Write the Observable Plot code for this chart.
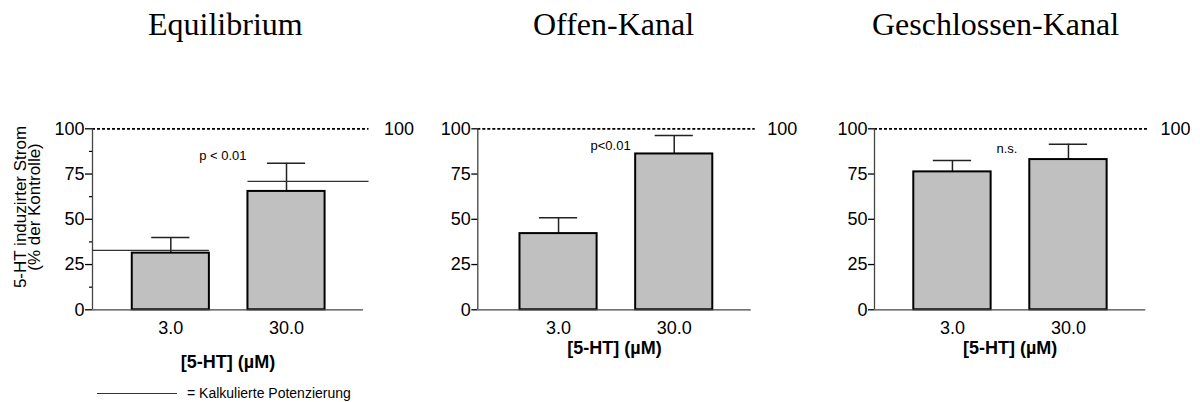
<!DOCTYPE html>
<html>
<head>
<meta charset="utf-8">
<script src="https://cdn.jsdelivr.net/npm/d3@7"></script>
<script src="https://cdn.jsdelivr.net/npm/@observablehq/plot@0.6"></script>
<style>
  html, body { margin: 0; padding: 0; background: white; }
  #root { position: relative; width: 1200px; height: 402px; overflow: hidden; background: white; }
  .title { position: absolute; top: 8px; font-family: "Liberation Serif", "Times New Roman", serif; font-size: 32px; line-height: 32px; white-space: nowrap; color: #000; }
  .panel { position: absolute; top: 0; }
  .ylab { position: absolute; left: 28px; top: 207px; transform: translate(-50%, -50%) rotate(-90deg);
          font-family: "Liberation Sans", Arial, sans-serif; font-size: 17px; line-height: 14px; text-align: center; white-space: nowrap; color: #000; }
  .legend { position: absolute; left: 97px; top: 384px; height: 18px; display: flex; align-items: center;
            font-family: "Liberation Sans", Arial, sans-serif; font-size: 14px; color: #000; white-space: nowrap; }
  .legend .line { width: 80px; border-top: 1.2px solid #333; margin-right: 10px; }
</style>
</head>
<body>
<div id="root"></div>
<script>
// ---- data ----
const categories = ["3.0", "30.0"];
const panelTitles = ["Equilibrium", "Offen-Kanal", "Geschlossen-Kanal"];
const meanEquilibrium = [31.3, 65.4];
const semEquilibrium = [8.7, 15.6];
const meanOffen = [42.1, 86.1];
const semOffen = [8.7, 10.2];
const meanGeschlossen = [76.2, 83.0];
const semGeschlossen = [6.3, 8.5];
const calcPotenzierung = [32.8, 71.0];      // Equilibrium only
const significance = ["p < 0.01", "p<0.01", "n.s."];
const yTicks = [0, 25, 50, 75, 100];
const yMinorTicks = [12.5, 37.5, 62.5, 87.5];
const xAxisTitle = "[5-HT] (µM)";
const yAxisTitle = ["5-HT induzirter Strom", "(% der Kontrolle)"];
const legendText = "= Kalkulierte Potenzierung";
const referenceLevel = 100;

// ---- layout ----
const layout = [
  {left: 0,   width: 425, marginLeft: 92,   marginRight: 56.5, domain: [0.323, 2.713], tickSize: 7, minor: true,
   sig: {x: 1.45, y: 85}, labelDy: 58, refDx: 15, titleLeft: 148},
  {left: 425, width: 395, marginLeft: 52.3, marginRight: 65.3, domain: [0.302, 2.70], tickSize: 6, minor: false,
   sig: {x: 1.45, y: 90.7}, labelDy: 44, refDx: 12, titleLeft: 533},
  {left: 820, width: 380, marginLeft: 54,   marginRight: 52,   domain: [0.328, 2.69], tickSize: 6, minor: false,
   sig: {x: 1.47, y: 89}, labelDy: 44, refDx: 12, titleLeft: 872}
];
const means = [meanEquilibrium, meanOffen, meanGeschlossen];
const sems = [semEquilibrium, semOffen, semGeschlossen];
const axisEnd = 2.666;
const halfBar = 1 / 3;
const halfCap = 0.165;

const root = document.getElementById("root");
const font = "'Liberation Sans', Arial, sans-serif";

panelTitles.forEach((t, p) => {
  const L = layout[p];
  const div = document.createElement("div");
  div.className = "title";
  div.style.left = L.titleLeft + "px";
  div.textContent = t;
  root.appendChild(div);

  const data = categories.map((c, i) => ({cat: c, pos: i + 1, mean: means[p][i], sem: sems[p][i]}));
  const x0 = L.domain[0], xEnd = L.domain[1];

  const marks = [
    // reference dotted line at 100
    Plot.ruleY([referenceLevel], {x1: x0, x2: xEnd, stroke: "black", strokeWidth: 1.8, strokeDasharray: "3,2"}),
    Plot.text([referenceLevel], {y: d => d, text: d => String(d), frameAnchor: "right", dx: L.refDx, textAnchor: "start", fontSize: 18}),
    // error bars
    Plot.ruleX(data, {x: "pos", y1: "mean", y2: d => d.mean + d.sem, stroke: "#222", strokeWidth: 1.5}),
    Plot.ruleY(data, {y: d => d.mean + d.sem, x1: d => d.pos - halfCap, x2: d => d.pos + halfCap, stroke: "#222", strokeWidth: 1.5}),
    // bars
    Plot.rectY(data, {x1: d => d.pos - halfBar, x2: d => d.pos + halfBar, y: "mean", fill: "#c0c0c0", stroke: "black", strokeWidth: 2}),
    // axes lines
    Plot.ruleX([x0], {y1: 0, y2: 100, stroke: "#444", strokeWidth: 1.3}),
    Plot.ruleY([0], {x1: x0, x2: axisEnd, stroke: "#444", strokeWidth: 1.3}),
    Plot.axisY({ticks: yTicks, tickSize: L.tickSize, tickPadding: 1, tickFormat: d => String(d), fontSize: 18, strokeWidth: 1.3, label: null}),
    Plot.axisX({ticks: [1, 2], tickSize: 0, tickPadding: 11, tickFormat: d => categories[d - 1], fontSize: 18, label: null}),
    // x axis title
    Plot.text([xAxisTitle], {x: () => (x0 + axisEnd) / 2, frameAnchor: "bottom", dy: L.labelDy, text: d => d, fontSize: 18, fontWeight: "bold"}),
    // significance
    Plot.text([significance[p]], {x: () => L.sig.x, y: () => L.sig.y, text: d => d, fontSize: 13})
  ];
  if (L.minor) {
    marks.push(Plot.axisY({ticks: yMinorTicks, tickSize: 3, tickFormat: () => "", strokeWidth: 1.2, label: null}));
  }
  if (p === 0) {
    const pot = [
      {value: calcPotenzierung[0], a: x0, b: 1 + halfBar},
      {value: calcPotenzierung[1], a: 2 - halfBar, b: xEnd}
    ];
    marks.push(Plot.ruleY(pot, {y: "value", x1: "a", x2: "b", stroke: "#333", strokeWidth: 1.2}));
  }

  const chart = Plot.plot({
    width: L.width,
    height: 402,
    marginLeft: L.marginLeft,
    marginRight: L.marginRight,
    marginTop: 128.3,
    marginBottom: 92.7,
    x: {domain: L.domain, label: null},
    y: {domain: [0, 100], label: null},
    style: {background: "transparent", overflow: "visible", fontFamily: font, fontSize: "18px", color: "black"},
    marks
  });
  chart.classList.add("panel");
  chart.style.left = L.left + "px";
  chart.style.position = "absolute";
  chart.style.top = "0px";
  root.appendChild(chart);
});

// y-axis title (panel 1)
const yl = document.createElement("div");
yl.className = "ylab";
yl.innerHTML = yAxisTitle.join("<br>");
root.appendChild(yl);

// legend
const lg = document.createElement("div");
lg.className = "legend";
const ln = document.createElement("span");
ln.className = "line";
lg.appendChild(ln);
lg.appendChild(document.createTextNode(legendText));
root.appendChild(lg);
</script>
</body>
</html>
